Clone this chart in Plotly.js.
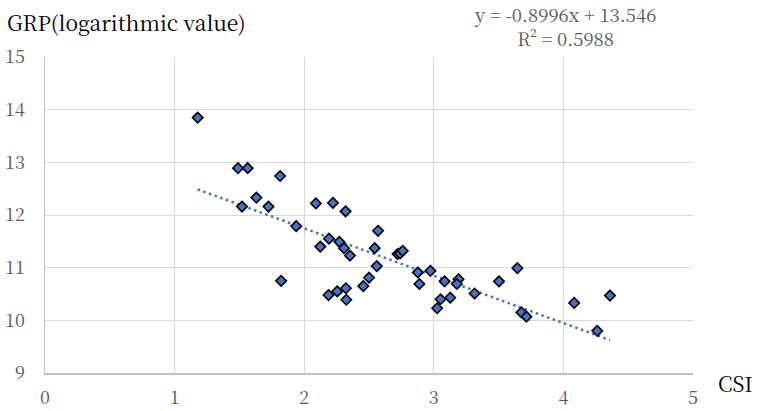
<!DOCTYPE html>
<html>
<head>
<meta charset="utf-8">
<script src="https://cdn.plot.ly/plotly-3.0.1.min.js"></script>
<style>html,body{margin:0;padding:0;background:#fff;}#chart{width:757px;height:411px;}</style>
</head>
<body>
<div id="chart"></div>
<script>
const csi = [1.178,1.489,1.564,1.814,1.631,1.520,1.724,2.090,2.222,2.319,1.938,2.570,2.191,2.124,2.271,2.307,2.353,2.544,2.560,2.500,2.456,1.822,2.188,2.255,2.322,2.325,2.720,2.740,2.760,2.877,2.889,2.974,3.083,3.191,3.178,3.052,3.026,3.127,3.315,3.503,3.645,3.676,3.715,4.083,4.261,4.359];
const grp = [13.85,12.89,12.89,12.74,12.33,12.16,12.16,12.22,12.23,12.07,11.79,11.70,11.55,11.40,11.49,11.37,11.23,11.37,11.03,10.81,10.65,10.75,10.48,10.55,10.61,10.39,11.26,11.27,11.32,10.91,10.69,10.94,10.74,10.78,10.69,10.40,10.23,10.43,10.51,10.74,10.99,10.15,10.07,10.33,9.80,10.47];
const slope = -0.8996, intercept = 13.546;
const xTicks = [0,1,2,3,4,5];
const yTicks = [9,10,11,12,13,14,15];
const eqText = "y = -0.8996x + 13.546<br>R² = 0.5988";
const yTitle = "GRP(logarithmic value)";
const xTitle = "CSI";

const xmin = Math.min(...csi), xmax = Math.max(...csi);
const trendX = [xmin, xmax];
const trendY = trendX.map(v => slope*v + intercept);

const serif = '"Noto Serif CJK JP", "DejaVu Serif", serif';
const tickColor = '#595959';
const data = [
  {x: trendX, y: trendY, type: 'scatter', mode: 'lines',
   line: {color: '#4472C4', width: 2.5, dash: '2.5px,3.5px'}, hoverinfo: 'skip'},
  {x: csi, y: grp, type: 'scatter', mode: 'markers',
   marker: {symbol: 'diamond', size: 8, color: '#4472C4', line: {color: '#000', width: 1.6}}}
];
const layout = {
  width: 757, height: 411,
  margin: {l: 45, r: 64, t: 57, b: 38},
  paper_bgcolor: '#fff', plot_bgcolor: '#fff',
  showlegend: false,
  font: {family: serif, color: tickColor, size: 18},
  xaxis: {range: [0,5], tickvals: xTicks, showgrid: true, gridcolor: '#d9d9d9', gridwidth: 1,
          zeroline: false, showline: true, linecolor: '#bfbfbf', linewidth: 1.5, ticks: '',
          ticklabelstandoff: 8, tickfont: {family: serif, size: 18, color: tickColor}, fixedrange: true},
  yaxis: {range: [9,15], tickvals: yTicks, showgrid: true, gridcolor: '#d9d9d9', gridwidth: 1,
          zeroline: false, showline: true, linecolor: '#bfbfbf', linewidth: 1.5, ticks: '',
          ticklabelstandoff: 15, tickfont: {family: serif, size: 18, color: tickColor}, fixedrange: true},
  annotations: [
    {text: yTitle, xref: 'paper', yref: 'paper', x: -0.0617, y: 1.1108,
     xanchor: 'left', yanchor: 'middle', showarrow: false, font: {family: serif, size: 21, color: '#000'}},
    {text: xTitle, xref: 'paper', yref: 'paper', x: 1.0355, y: -0.0316, xanchor: 'left', yanchor: 'middle',
     showarrow: false, font: {family: serif, size: 21, color: '#000'}},
    {text: eqText, xref: 'paper', yref: 'paper', x: 0.8032, y: 1.097, xanchor: 'center', yanchor: 'middle',
     align: 'center', showarrow: false, font: {family: serif, size: 18.5, color: tickColor}}
  ]
};
Plotly.newPlot('chart', data, layout, {displayModeBar: false, staticPlot: true});
</script>
</body>
</html>
